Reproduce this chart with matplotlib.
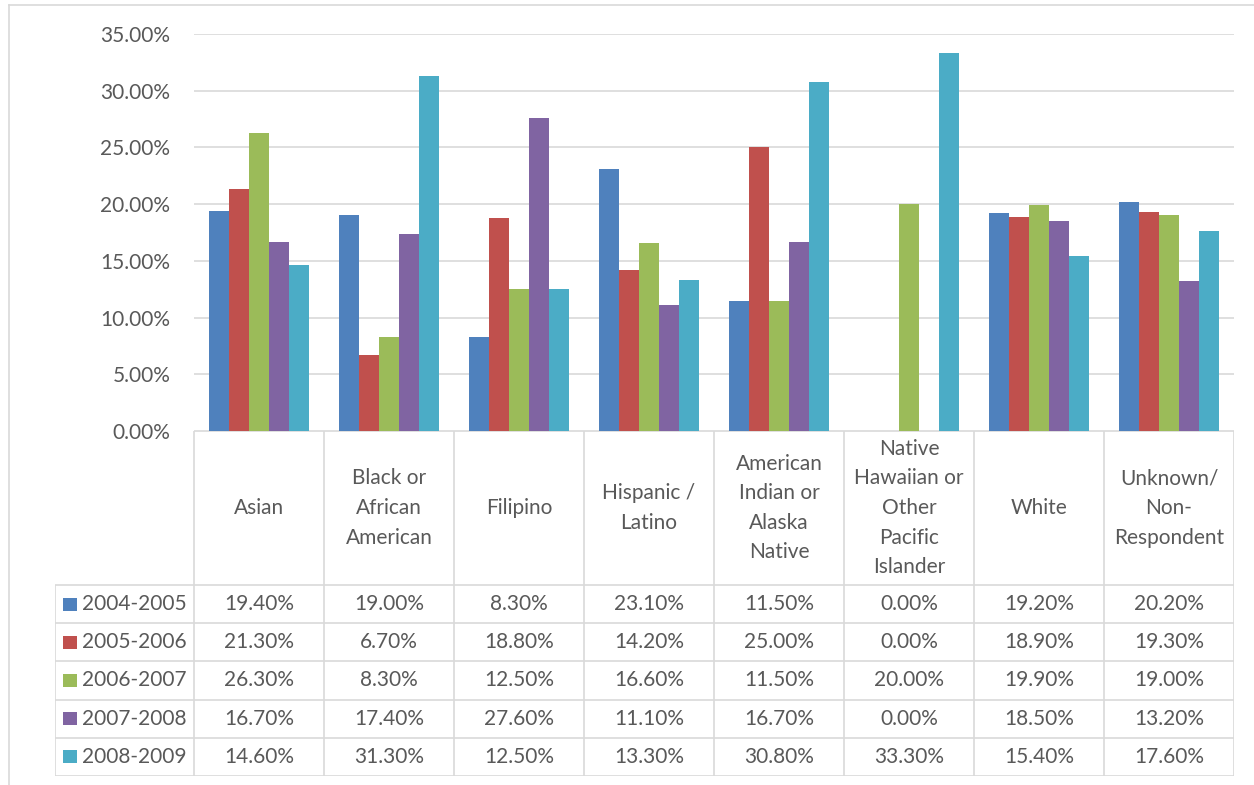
import matplotlib.pyplot as plt
import numpy as np
from matplotlib.patches import Rectangle
from matplotlib.lines import Line2D

categories = ["Asian", "Black or\nAfrican\nAmerican", "Filipino", "Hispanic /\nLatino",
              "American\nIndian or\nAlaska\nNative", "Native\nHawaiian or\nOther\nPacific\nIslander",
              "White", "Unknown/\nNon-\nRespondent"]
years = ["2004-2005", "2005-2006", "2006-2007", "2007-2008", "2008-2009"]
v_2004 = [19.4, 19.0, 8.3, 23.1, 11.5, 0.0, 19.2, 20.2]
v_2005 = [21.3, 6.7, 18.8, 14.2, 25.0, 0.0, 18.9, 19.3]
v_2006 = [26.3, 8.3, 12.5, 16.6, 11.5, 20.0, 19.9, 19.0]
v_2007 = [16.7, 17.4, 27.6, 11.1, 16.7, 0.0, 18.5, 13.2]
v_2008 = [14.6, 31.3, 12.5, 13.3, 30.8, 33.3, 15.4, 17.6]
series = [v_2004, v_2005, v_2006, v_2007, v_2008]
colors = ["#4F81BD", "#C0504D", "#9BBB59", "#8064A2", "#4BACC6"]

plt.rcParams['font.family'] = ['Lato', 'DejaVu Sans']
txt = "#595959"
grid = "#D9D9D9"
fs = 15
W, H = 1254, 785
fig = plt.figure(figsize=(W / 100, H / 100), dpi=100)

# outer chart border (left and top visible)
fig.add_artist(Line2D([9 / W, 9 / W], [0, 1 - 5 / H], color=grid, lw=1.2))
fig.add_artist(Line2D([9 / W, 1], [1 - 5 / H, 1 - 5 / H], color=grid, lw=1.2))

# bar area
x0, x1, ytop, ybase = 194, 1234, 34, 431
ax = fig.add_axes([x0 / W, 1 - ybase / H, (x1 - x0) / W, (ybase - ytop) / H])
n = len(categories)
x = np.arange(n)
bw = 0.154
for i, vals in enumerate(series):
    ax.bar(x + (i - 2) * bw, np.array(vals) / 100, bw, color=colors[i], zorder=3)
ax.set_xlim(-0.5, n - 0.5)
ax.set_ylim(0, 0.35)
ax.set_yticks(np.arange(0, 0.351, 0.05))
ax.set_yticklabels([f"{t * 100:.2f}%" for t in np.arange(0, 0.351, 0.05)])
ax.tick_params(axis='y', length=0, pad=17, labelsize=fs, labelcolor=txt)
ax.set_xticks([])
ax.grid(axis='y', color=grid, lw=1.2, zorder=0)
for s in ax.spines.values():
    s.set_visible(False)

# data table below
hdr, rowh = 154, 38.2
tb_bottom = hdr + rowh * len(years)
leg_left = -0.5 - 139 / 130
tax = fig.add_axes([55 / W, 1 - (ybase + tb_bottom) / H, (x1 - 55) / W, tb_bottom / H])
tax.set_xlim(leg_left, n - 0.5)
tax.set_ylim(tb_bottom, 0)
tax.axis('off')
lc = dict(color=grid, lw=1.2, solid_capstyle='butt')
tax.plot([-0.5, n - 0.5], [0, 0], **lc)
for k in range(n + 1):
    tax.plot([k - 0.5, k - 0.5], [0, tb_bottom], **lc)
tax.plot([leg_left, leg_left], [hdr, tb_bottom], **lc)
for r in range(len(years) + 1):
    tax.plot([leg_left, n - 0.5], [hdr + r * rowh] * 2, **lc)

for k, c in enumerate(categories):
    tax.text(k, hdr / 2, c, ha='center', va='center', fontsize=fs, color=txt, linespacing=1.6)

px = 1 / 130
for r, (yr, vals) in enumerate(zip(years, series)):
    yc = hdr + (r + 0.5) * rowh
    tax.add_patch(Rectangle((leg_left + 8 * px, yc - 6.5), 14 * px, 13, color=colors[r], lw=0))
    tax.text(leg_left + 27 * px, yc, yr, ha='left', va='center', fontsize=fs, color=txt)
    for k, v in enumerate(vals):
        tax.text(k, yc, f"{v:.2f}%", ha='center', va='center', fontsize=fs, color=txt)

fig.savefig("out.png", dpi=100)
